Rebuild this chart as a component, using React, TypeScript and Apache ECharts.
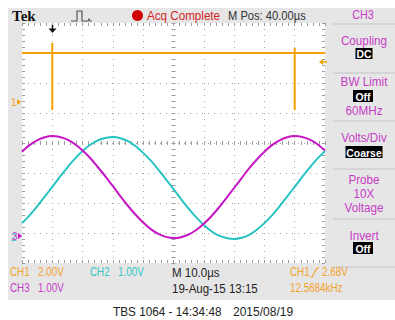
import React, { useEffect, useRef } from "react";
import * as echarts from "echarts";

// Horizontal: time in µs (10 divisions of 10 µs), vertical: screen divisions
const timeMin = -50;
const timeMax = 50;
const timeStep = 10;
const divMin = -4;
const divMax = 4;

// sample times (µs) for the two sine channels
const sampleTimes = [
  -50, -47.5, -45, -42.5, -40, -37.5, -35, -32.5, -30, -27.5, -25, -22.5, -20, -17.5, -15, -12.5, -10, -7.5, -5, -2.5,
  0, 2.5, 5, 7.5, 10, 12.5, 15, 17.5, 20, 22.5, 25, 27.5, 30, 32.5, 35, 37.5, 40, 42.5, 45, 47.5, 50,
];
// CH3 (magenta), in divisions
const ch3Values = [
  -0.29, -0.07, 0.09, 0.19, 0.23, 0.2, 0.11, -0.04, -0.25, -0.5, -0.8, -1.11, -1.44, -1.78, -2.1, -2.39, -2.65, -2.87, -3.03, -3.13,
  -3.17, -3.14, -3.05, -2.9, -2.69, -2.44, -2.15, -1.83, -1.5, -1.17, -0.84, -0.55, -0.29, -0.07, 0.09, 0.19, 0.23, 0.2, 0.11, -0.04, -0.25,
];
// CH2 (cyan), in divisions
const ch2Values = [
  -2.67, -2.41, -2.11, -1.79, -1.46, -1.13, -0.81, -0.52, -0.27, -0.06, 0.09, 0.17, 0.2, 0.16, 0.06, -0.11, -0.33, -0.59, -0.89, -1.21,
  -1.54, -1.87, -2.19, -2.48, -2.73, -2.94, -3.09, -3.17, -3.2, -3.16, -3.06, -2.89, -2.67, -2.41, -2.11, -1.79, -1.46, -1.13, -0.81, -0.52, -0.27,
];
// CH1 (orange) pulse train
const ch1Times = [-50, -40, -40, -40, -40, 40, 40, 40, 40, 50];
const ch1Values = [3, 3, 3.33, 1.1, 3, 3, 3.17, 1.1, 3, 3];

const statusTop = ["Tek", "Acq Complete", "M Pos: 40.00µs", "CH3"];
const menuItems = ["Coupling", "DC", "BW Limit", "Off", "60MHz", "Volts/Div", "Coarse", "Probe", "10X", "Voltage", "Invert", "Off"];
const statusBottom = ["CH1", "2.00V", "CH2", "1.00V", "CH3", "1.00V", "M 10.0µs", "19-Aug-15 13:15", "CH1", "2.68V", "12.5684kHz"];
const caption = ["TBS 1064 - 14:34:48", "2015/08/19"];

const ORANGE = "#f5a000";
const CYAN = "#27c3c3";
const MAGENTA = "#c616c6";
const MAG_TXT = "#c63cc6";
const ORANGE_TXT = "#f3a22c";
const CYAN_TXT = "#35c6c6";
const FONT = '"Liberation Sans", Arial, sans-serif';
const TICK = "#9c9c9c";

const GL = 22, GT = 23, GW = 303, GH = 240;

function txt(text: string, x: number, y: number, fill: string, size = 12, align = "left", sx = 1, extra: any = {}) {
  return {
    type: "text",
    x,
    y,
    scaleX: sx,
    silent: true,
    z: 100,
    style: {
      text,
      fill,
      fontSize: size,
      fontFamily: FONT,
      align,
      textAlign: align,
      verticalAlign: "middle",
      textVerticalAlign: "middle",
      ...extra,
    },
  };
}
function box(text: string, cx: number, y: number, w: number, h: number) {
  return [
    { type: "rect", silent: true, z: 99, shape: { x: cx - w / 2, y, width: w, height: h }, style: { fill: "#000" } },
    txt(text, cx, y + h / 2 + 0.5, "#fff", 11, "center", 0.95, { fontWeight: "bold" }),
  ];
}
function sep(y: number) {
  return { type: "line", silent: true, z: 99, shape: { x1: 333, y1: y, x2: 395, y2: y }, style: { stroke: "#c4c4c4", lineWidth: 1 } };
}
const MS = 0.9; // menu text squeeze
const BS = 0.82; // bottom status squeeze

function xAx(position: string, offset: number, split: boolean, len: number) {
  return {
    type: "value",
    min: timeMin,
    max: timeMax,
    interval: timeStep,
    position,
    offset,
    axisLabel: { show: false },
    axisLine: { show: false, onZero: false },
    axisTick: { show: true, inside: true, length: len, lineStyle: { color: TICK } },
    minorTick: { show: true, splitNumber: 5, length: len, lineStyle: { color: TICK } },
    splitLine: {
      show: split,
      showMinLine: false,
      showMaxLine: false,
      lineStyle: { color: "#a5a5a5", type: [1, 5], width: 1 },
    },
  };
}
function yAx(position: string, offset: number, split: boolean, len: number) {
  return {
    type: "value",
    min: divMin,
    max: divMax,
    interval: 1,
    position,
    offset,
    axisLabel: { show: false },
    axisLine: { show: false, onZero: false },
    axisTick: { show: true, inside: true, length: len, lineStyle: { color: TICK } },
    minorTick: { show: true, splitNumber: 5, length: len, lineStyle: { color: TICK } },
    splitLine: {
      show: split,
      showMinLine: false,
      showMaxLine: false,
      lineStyle: { color: "#a5a5a5", type: [1, 5], width: 1 },
    },
  };
}

export default function App() {
  const ref = useRef<HTMLDivElement>(null);
  useEffect(() => {
    if (!ref.current) return;
    const chart = echarts.init(ref.current, null, { renderer: "svg" });
    const graphic: any[] = [
      { type: "rect", silent: true, z: -10, shape: { x: 8, y: 8, width: 387, height: 292 }, style: { fill: "#e6e6e6" } },
      { type: "rect", silent: true, z: -9, shape: { x: GL, y: GT, width: GW, height: GH }, style: { fill: "#ffffff" } },
      // top bar
      txt(statusTop[0], 12, 16, "#111", 15, "left", 1, { fontFamily: '"Liberation Serif", serif', fontWeight: "bold" }),
      { type: "polyline", silent: true, z: 100, shape: { points: [[71, 21], [77, 21], [77, 11], [82, 11], [82, 21], [88, 21], [89, 19], [90, 21], [92, 21]] }, style: { stroke: "#555", lineWidth: 1.2, fill: null } },
      { type: "circle", silent: true, z: 100, shape: { cx: 137.5, cy: 15.5, r: 5.5 }, style: { fill: "#d00000" } },
      txt(statusTop[1], 147, 16, "#d42424", 12, "left", 0.97),
      txt(statusTop[2], 228, 16, "#333", 12, "left", 0.93),
      txt(statusTop[3], 363, 15, MAG_TXT, 12, "center", 0.9),
      // side menu
      sep(24), sep(73), sep(121), sep(169), sep(219), sep(267),
      txt(menuItems[0], 364, 41, MAG_TXT, 13, "center", MS),
      ...box(menuItems[1], 364, 48, 17, 11),
      txt(menuItems[2], 364, 82, MAG_TXT, 13, "center", MS),
      ...box(menuItems[3], 363, 90, 20, 12),
      txt(menuItems[4], 364, 111, MAG_TXT, 13, "center", MS),
      txt(menuItems[5], 364, 138, MAG_TXT, 13, "center", MS),
      ...box(menuItems[6], 364, 146, 37, 12),
      txt(menuItems[7], 364, 180, MAG_TXT, 13, "center", MS),
      txt(menuItems[8], 364, 194, MAG_TXT, 13, "center", MS),
      txt(menuItems[9], 364, 208, MAG_TXT, 13, "center", MS),
      txt(menuItems[10], 364, 236, MAG_TXT, 13, "center", MS),
      ...box(menuItems[11], 363, 242, 20, 12),
      // bottom status
      txt(statusBottom[0], 10, 272, ORANGE_TXT, 12, "left", BS),
      txt(statusBottom[1], 38, 272, ORANGE_TXT, 12, "left", BS),
      txt(statusBottom[2], 90, 272, CYAN_TXT, 12, "left", BS),
      txt(statusBottom[3], 118, 272, CYAN_TXT, 12, "left", BS),
      txt(statusBottom[4], 10, 288, MAG_TXT, 12, "left", BS),
      txt(statusBottom[5], 38, 288, MAG_TXT, 12, "left", BS),
      txt(statusBottom[6], 172, 272, "#222", 12, "left", 0.96),
      txt(statusBottom[7], 172, 288, "#222", 12, "left", 0.96),
      txt(statusBottom[8], 290, 272, ORANGE_TXT, 12, "left", BS),
      { type: "polyline", silent: true, z: 100, shape: { points: [[310, 277], [312, 277], [317, 268], [319, 268]] }, style: { stroke: ORANGE_TXT, lineWidth: 1.2, fill: null } },
      txt(statusBottom[9], 322, 272, ORANGE_TXT, 12, "left", BS),
      txt(statusBottom[10], 290, 288, ORANGE_TXT, 12, "left", BS),
      // caption
      txt(caption[0], 113, 312, "#222", 12, "left", 0.98),
      txt(caption[1], 233, 312, "#222", 12),
      // channel markers
      txt("1", 11, 102, ORANGE_TXT, 10),
      { type: "polygon", silent: true, z: 100, shape: { points: [[17, 99], [21, 102], [17, 105]] }, style: { fill: ORANGE } },
      txt("2", 11, 237, CYAN_TXT, 10),
      txt("3", 12, 236, MAG_TXT, 10),
      { type: "polygon", silent: true, z: 100, shape: { points: [[18, 233], [22, 236], [18, 239]] }, style: { fill: MAGENTA } },
      { type: "polygon", silent: true, z: 100, shape: { points: [[319, 62], [323, 59], [323, 65]] }, style: { fill: ORANGE } },
      { type: "line", silent: true, z: 100, shape: { x1: 322, y1: 62, x2: 327, y2: 62 }, style: { stroke: ORANGE, lineWidth: 1.5 } },
      { type: "line", silent: true, z: 100, shape: { x1: 52.5, y1: 25, x2: 52.5, y2: 30 }, style: { stroke: "#111", lineWidth: 1.5 } },
      { type: "polygon", silent: true, z: 100, shape: { points: [[48.5, 28.5], [56.5, 28.5], [52.5, 33]] }, style: { fill: "#111" } },
    ];
    chart.setOption({
      animation: false,
      backgroundColor: "#ffffff",
      grid: { left: GL, top: GT, width: GW, height: GH, show: false },
      xAxis: [xAx("bottom", 0, true, 3), xAx("top", 0, false, 3), xAx("bottom", -118, false, 4)],
      yAxis: [yAx("left", 0, true, 3), yAx("right", 0, false, 3), yAx("left", -149.5, false, 4)],
      graphic,
      series: [
        {
          type: "line",
          xAxisIndex: 0,
          yAxisIndex: 0,
          showSymbol: false,
          data: ch1Times.map((t, i) => [t, ch1Values[i]]),
          lineStyle: { color: ORANGE, width: 2 },
          itemStyle: { color: ORANGE },
        },
        {
          type: "line",
          xAxisIndex: 0,
          yAxisIndex: 0,
          showSymbol: false,
          smooth: 0.3,
          data: sampleTimes.map((t, i) => [t, ch2Values[i]]),
          lineStyle: { color: CYAN, width: 2 },
          itemStyle: { color: CYAN },
        },
        {
          type: "line",
          xAxisIndex: 0,
          yAxisIndex: 0,
          showSymbol: false,
          smooth: 0.3,
          data: sampleTimes.map((t, i) => [t, ch3Values[i]]),
          lineStyle: { color: MAGENTA, width: 2 },
          itemStyle: { color: MAGENTA },
        },
      ],
    });
    return () => chart.dispose();
  }, []);
  return <div ref={ref} style={{ position: "absolute", left: 0, top: 0, width: 395, height: 320 }} />;
}
